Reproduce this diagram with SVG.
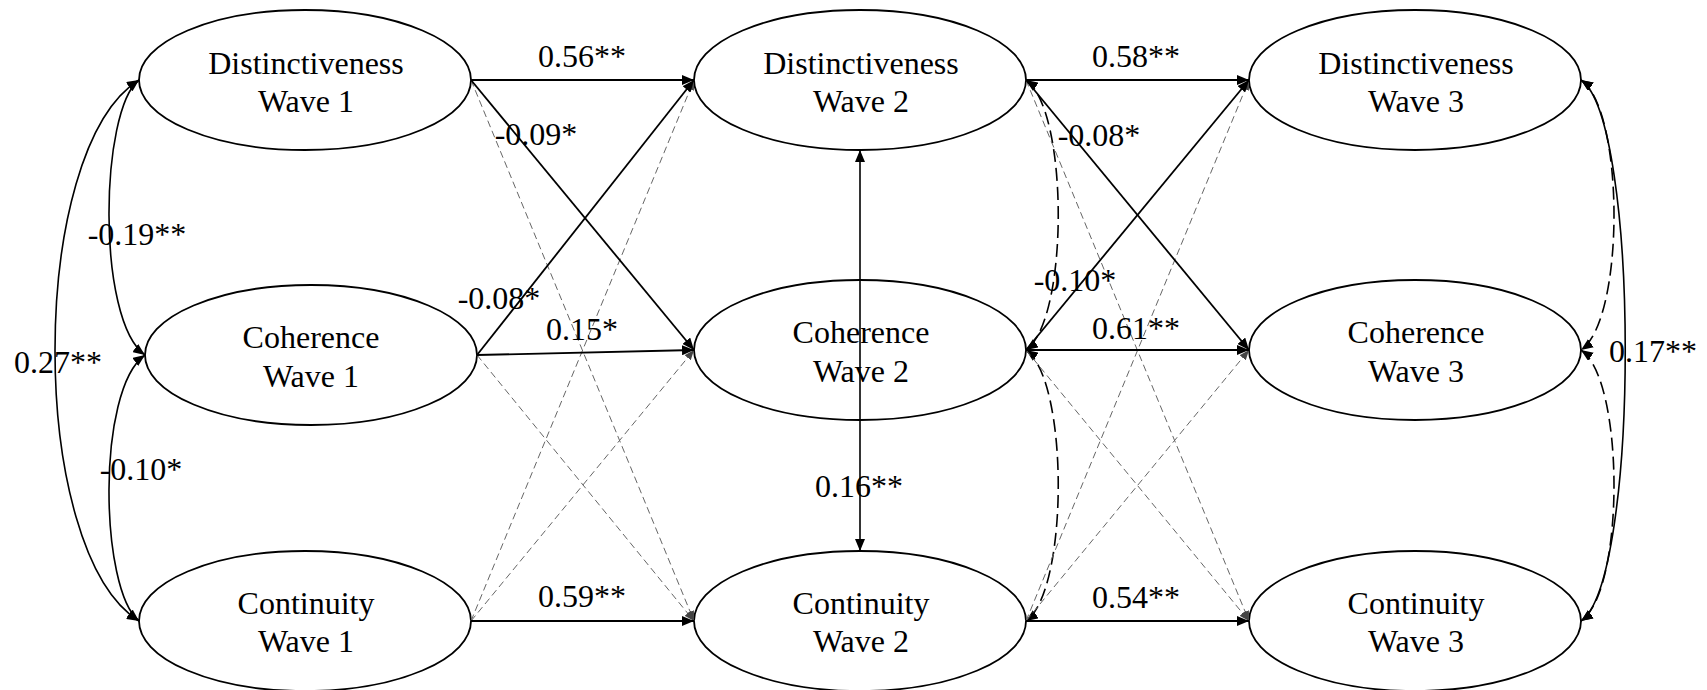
<svg xmlns="http://www.w3.org/2000/svg" width="1707" height="690" viewBox="0 0 1707 690">
<style>
.node ellipse{fill:none;stroke:#000;stroke-width:1.8}
.node text,.lbl{font-family:"Liberation Serif","Times New Roman",serif;font-size:32px;fill:#000;text-anchor:middle}
.sol{fill:none;stroke:#000;stroke-width:1.8}
.ns{fill:none;stroke:#666;stroke-width:1;stroke-dasharray:7 4}
.cov{fill:none;stroke:#000;stroke-width:1.6}
.covd{fill:none;stroke:#000;stroke-width:1.6;stroke-dasharray:13 6}
</style>
<defs>
<marker id="ah" markerUnits="userSpaceOnUse" markerWidth="12" markerHeight="10" refX="12" refY="5" orient="auto-start-reverse"><path d="M0,0 L12,5 L0,10 z" fill="#000"/></marker>
<marker id="ahg" markerUnits="userSpaceOnUse" markerWidth="10" markerHeight="8" refX="10" refY="4" orient="auto"><path d="M0,0 L10,4 L0,8 z" fill="#444"/></marker>
</defs>
<rect width="1707" height="690" fill="#fff"/>
<g id="dist1" class="node"><ellipse cx="305" cy="80" rx="166" ry="70"/><text x="306" y="74">Distinctiveness</text><text x="306" y="112">Wave 1</text></g>
<g id="coh1" class="node"><ellipse cx="311" cy="355" rx="166" ry="70"/><text x="311" y="348">Coherence</text><text x="311" y="387">Wave 1</text></g>
<g id="cont1" class="node"><ellipse cx="305" cy="621" rx="166" ry="70"/><text x="306" y="614">Continuity</text><text x="306" y="652">Wave 1</text></g>
<g id="dist2" class="node"><ellipse cx="860" cy="80" rx="166" ry="70"/><text x="861" y="74">Distinctiveness</text><text x="861" y="112">Wave 2</text></g>
<g id="coh2" class="node"><ellipse cx="860" cy="350" rx="166" ry="70"/><text x="861" y="343">Coherence</text><text x="861" y="382">Wave 2</text></g>
<g id="cont2" class="node"><ellipse cx="860" cy="621" rx="166" ry="70"/><text x="861" y="614">Continuity</text><text x="861" y="652">Wave 2</text></g>
<g id="dist3" class="node"><ellipse cx="1415" cy="80" rx="166" ry="70"/><text x="1416" y="74">Distinctiveness</text><text x="1416" y="112">Wave 3</text></g>
<g id="coh3" class="node"><ellipse cx="1415" cy="350" rx="166" ry="70"/><text x="1416" y="343">Coherence</text><text x="1416" y="382">Wave 3</text></g>
<g id="cont3" class="node"><ellipse cx="1415" cy="621" rx="166" ry="70"/><text x="1416" y="614">Continuity</text><text x="1416" y="652">Wave 3</text></g>
<g id="connectors">
<!-- wave 1 covariances -->
<path class="cov" d="M139,80 C100,110 96,320 145,355" marker-start="url(#ah)" marker-end="url(#ah)"/>
<path class="cov" d="M145,355 C96,390 100,590 139,621" marker-start="url(#ah)" marker-end="url(#ah)"/>
<path class="cov" d="M139,80 C27,150 27,551 139,621" marker-start="url(#ah)" marker-end="url(#ah)"/>
<!-- wave 1 -> wave 2 nonsignificant -->
<line class="ns" x1="471" y1="80" x2="694" y2="621" marker-end="url(#ahg)"/>
<line class="ns" x1="477" y1="355" x2="694" y2="621" marker-end="url(#ahg)"/>
<line class="ns" x1="471" y1="621" x2="694" y2="80" marker-end="url(#ahg)"/>
<line class="ns" x1="471" y1="621" x2="694" y2="350" marker-end="url(#ahg)"/>
<!-- wave 1 -> wave 2 significant -->
<line class="sol" x1="471" y1="80" x2="694" y2="80" marker-end="url(#ah)"/>
<line class="sol" x1="471" y1="80" x2="694" y2="350" marker-end="url(#ah)"/>
<line class="sol" x1="477" y1="355" x2="694" y2="80" marker-end="url(#ah)"/>
<line class="sol" x1="477" y1="355" x2="694" y2="350" marker-end="url(#ah)"/>
<line class="sol" x1="471" y1="621" x2="694" y2="621" marker-end="url(#ah)"/>
<!-- wave 2 covariances -->
<line class="cov" x1="860" y1="150" x2="860" y2="551" marker-start="url(#ah)" marker-end="url(#ah)"/>
<path class="covd" d="M1026,80 C1069,110 1069,320 1026,350" marker-start="url(#ah)" marker-end="url(#ah)"/>
<path class="covd" d="M1026,350 C1069,380 1069,591 1026,621" marker-start="url(#ah)" marker-end="url(#ah)"/>
<!-- wave 2 -> wave 3 nonsignificant -->
<line class="ns" x1="1026" y1="80" x2="1249" y2="621" marker-end="url(#ahg)"/>
<line class="ns" x1="1026" y1="350" x2="1249" y2="621" marker-end="url(#ahg)"/>
<line class="ns" x1="1026" y1="621" x2="1249" y2="80" marker-end="url(#ahg)"/>
<line class="ns" x1="1026" y1="621" x2="1249" y2="350" marker-end="url(#ahg)"/>
<!-- wave 2 -> wave 3 significant -->
<line class="sol" x1="1026" y1="80" x2="1249" y2="80" marker-end="url(#ah)"/>
<line class="sol" x1="1026" y1="80" x2="1249" y2="350" marker-end="url(#ah)"/>
<line class="sol" x1="1026" y1="350" x2="1249" y2="80" marker-end="url(#ah)"/>
<line class="sol" x1="1026" y1="350" x2="1249" y2="350" marker-end="url(#ah)"/>
<line class="sol" x1="1026" y1="621" x2="1249" y2="621" marker-end="url(#ah)"/>
<!-- wave 3 covariances -->
<path class="covd" d="M1581,80 C1625,110 1625,320 1581,350" marker-start="url(#ah)" marker-end="url(#ah)"/>
<path class="covd" d="M1581,350 C1625,380 1625,591 1581,621" marker-start="url(#ah)" marker-end="url(#ah)"/>
<path class="cov" d="M1581,80 C1640,120 1640,580 1581,621" marker-start="url(#ah)" marker-end="url(#ah)"/>
</g>
<g id="labels">
<text class="lbl" x="582" y="67">0.56**</text>
<text class="lbl" x="536" y="145">-0.09*</text>
<text class="lbl" x="137" y="245">-0.19**</text>
<text class="lbl" x="58" y="373">0.27**</text>
<text class="lbl" x="141" y="480">-0.10*</text>
<text class="lbl" x="499" y="309">-0.08*</text>
<text class="lbl" x="582" y="340">0.15*</text>
<text class="lbl" x="582" y="607">0.59**</text>
<text class="lbl" x="859" y="497">0.16**</text>
<text class="lbl" x="1136" y="67">0.58**</text>
<text class="lbl" x="1099" y="146">-0.08*</text>
<text class="lbl" x="1075" y="291">-0.10*</text>
<text class="lbl" x="1136" y="339">0.61**</text>
<text class="lbl" x="1136" y="608">0.54**</text>
<text class="lbl" x="1653" y="362">0.17**</text>
</g>
</svg>
